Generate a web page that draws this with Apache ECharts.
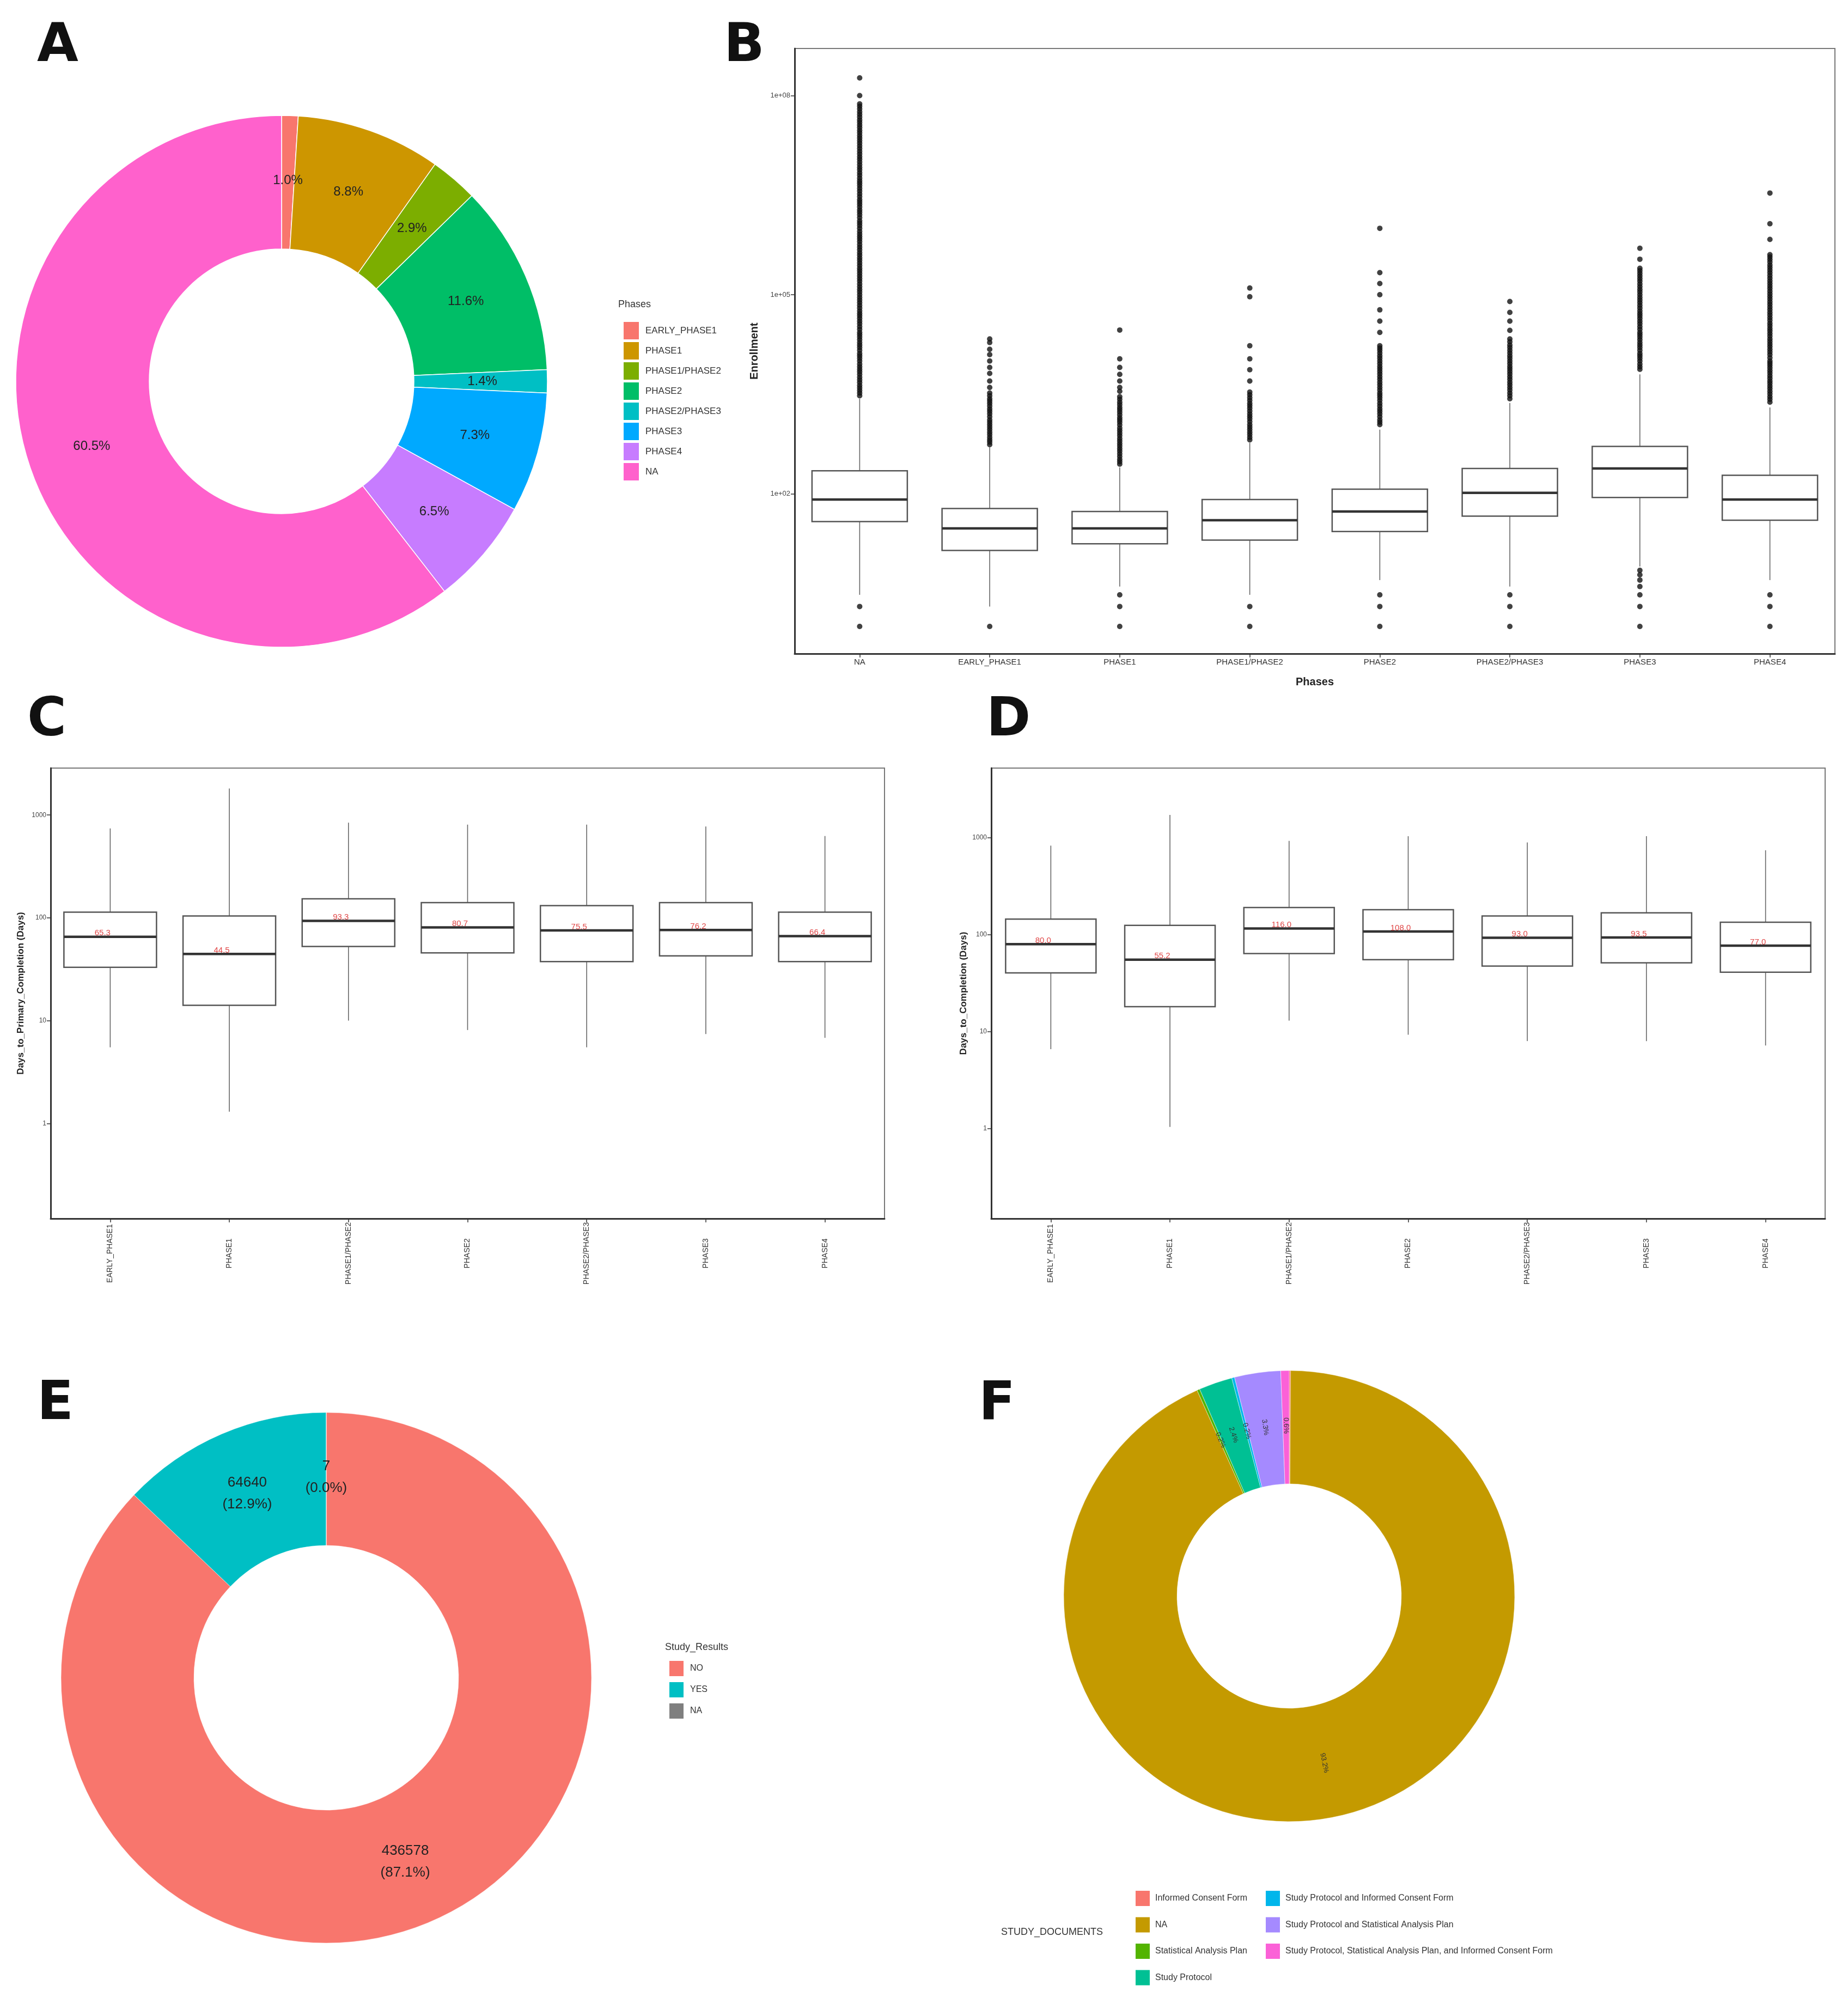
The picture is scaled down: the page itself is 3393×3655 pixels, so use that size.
<!DOCTYPE html>
<html><head><meta charset="utf-8">
<script src="https://cdn.jsdelivr.net/npm/echarts@6/dist/echarts.min.js"></script>
<style>html,body{margin:0;padding:0;background:#fff}#c{width:3393px;height:3655px}</style>
</head><body><div id="c"></div>
<script>
// ---------- Panel A: Phases donut ----------
const phaseNames = ['EARLY_PHASE1','PHASE1','PHASE1/PHASE2','PHASE2','PHASE2/PHASE3','PHASE3','PHASE4','NA'];
const phasePct = [1.0, 8.8, 2.9, 11.6, 1.4, 7.3, 6.5, 60.5];
const phaseColors = ['#F8766D','#CD9600','#7CAE00','#00BE67','#00BFC4','#00A9FF','#C77CFF','#FF61CC'];

// ---------- Panel B: Enrollment by phase (log scale) ----------
const enrollCats = ['NA','EARLY_PHASE1','PHASE1','PHASE1/PHASE2','PHASE2','PHASE2/PHASE3','PHASE3','PHASE4'];
const enrollLowWhisker  = [3, 2, 4, 3, 5, 4, 8, 5];
const enrollQ1          = [38, 14, 17.6, 20, 27, 46, 88, 40];
const enrollMedian      = [82, 30, 30, 40, 54, 103, 240, 82];
const enrollQ3          = [222, 60, 54, 82, 117, 240, 517, 190];
const enrollHighWhisker = [2700, 500, 250, 585, 926, 2330, 6300, 2000];
const enrollOutHigh = [
  [3000,3300,3600,3950,4300,4750,5200,5700,6300,6900,7500,8200,9000,10000,11000,12000,13000,14500,16000,17500,19000,21000,23000,25000,27000,30000,33000,36500,40000,44000,48000,52000,57000,63000,69000,76000,83000,91000,100000,110000,120000,132000,145000,160000,175000,192000,210000,230000,250000,275000,300000,330000,360000,395000,430000,475000,520000,570000,630000,690000,750000,820000,900000,1000000,1100000,1200000,1300000,1450000,1600000,1750000,1900000,2100000,2300000,2500000,2700000,3000000,3300000,3650000,4000000,4400000,4800000,5200000,5700000,6300000,6900000,7600000,8300000,9100000,10000000,11000000,12000000,13200000,14500000,16000000,17500000,19200000,21000000,23000000,25000000,27500000,30000000,33000000,36000000,39500000,43000000,47500000,52000000,57000000,63000000,69000000,75000000,100000000,185000000],
  [550,600,650,710,780,850,930,1010,1100,1200,1300,1450,1600,1750,1900,2100,2300,2500,2700,3000,3300,4000,5000,6500,8000,10000,12500,15000,19000,21500],
  [280,305,330,365,400,440,480,525,570,625,680,750,820,900,980,1090,1200,1300,1400,1550,1700,1850,2000,2200,2400,2650,2900,3500,4000,5000,6300,8000,10800,29300],
  [650,710,780,850,930,1010,1100,1220,1350,1470,1600,1770,1950,2120,2300,2550,2800,3100,3400,5000,7400,10800,17000,93000,126000],
  [1100,1200,1300,1450,1600,1750,1900,2100,2300,2550,2800,3050,3300,3650,4000,4400,4800,5300,5800,6400,7000,7650,8300,9150,10000,11000,12000,13200,14500,15700,17000,27000,40000,59000,100000,147000,215000,1000000],
  [2700,3000,3300,3650,4000,4400,4800,5300,5800,6400,7000,7650,8300,9150,10000,11000,12000,13200,14500,16000,17500,19500,21500,29000,40000,54000,79000],
  [7500,8200,9000,10000,11000,12000,13000,14500,16000,17500,19000,21000,23000,25000,27000,30000,33000,36500,40000,44000,48000,52000,57000,63000,69000,76000,83000,91000,100000,110000,120000,132000,145000,160000,175000,192000,210000,230000,250000,342000,500000],
  [2400,2650,2900,3200,3500,3850,4200,4600,5000,5500,6000,6600,7200,7900,8600,9300,10000,11200,12500,13700,15000,16500,18000,19700,21500,23700,26000,28500,31000,34000,37000,41000,45000,49500,54000,59500,65000,71500,78000,86000,94000,103000,113000,124000,135000,148000,162000,178000,195000,215000,235000,257000,280000,310000,340000,370000,400000,680000,1170000,3400000]
];
const enrollOutLow = [[2,1],[1],[3,2,1],[2,1],[3,2,1],[3,2,1],[7,6,5,4,3,2,1],[3,2,1]];
const enrollTicks = [1e2, 1e5, 1e8];

// ---------- Panels C & D: durations (log scale, days) ----------
const durCats = ['EARLY_PHASE1','PHASE1','PHASE1/PHASE2','PHASE2','PHASE2/PHASE3','PHASE3','PHASE4'];
const primLow  = [5.5, 1.3, 10, 8.1, 5.5, 7.4, 6.8];
const primQ1   = [33, 14.1, 52.7, 45.6, 37.5, 42.6, 37.5];
const primMed  = [65.3, 44.5, 93.3, 80.7, 75.5, 76.2, 66.4];
const primQ3   = [113.7, 104.4, 153, 140.6, 131.5, 140.6, 113.7];
const primHigh = [741, 1815, 843, 807, 807, 774, 625];
const compLow  = [6.6, 1.04, 13, 9.3, 8, 8, 7.2];
const compQ1   = [40.4, 18.1, 64, 55.2, 47.5, 51.3, 41];
const compMed  = [80, 55.2, 116, 108, 93, 93.5, 77];
const compQ3   = [145, 125, 191, 181, 156, 168, 134.6];
const compHigh = [830, 1720, 929, 1038, 895, 1038, 743];
const durTicks = [1, 10, 100, 1000];

// ---------- Panel E: Study results ----------
const resultNames = ['NO','YES','NA'];
const resultCounts = [436578, 64640, 7];
const resultColors = ['#F8766D','#00BFC4','#7F7F7F'];

// ---------- Panel F: Study documents ----------
const docNames = ['Informed Consent Form','NA','Statistical Analysis Plan','Study Protocol',
  'Study Protocol and Informed Consent Form','Study Protocol and Statistical Analysis Plan',
  'Study Protocol, Statistical Analysis Plan, and Informed Consent Form'];
const docPct = [0.1, 93.2, 0.2, 2.4, 0.2, 3.3, 0.6];
const docColors = ['#F8766D','#C49A00','#53B400','#00C094','#00B6EB','#A58AFF','#FB61D7'];

// ================= build =================
const FONT = 'Liberation Sans';
const lg = Math.log10;
const chart = echarts.init(document.getElementById('c'));

function boxRenderer(boxW, labels) {
  return function (params, api) {
    const i = api.value(0);
    const lw = api.coord([i, api.value(1)]);
    const q1 = api.coord([i, api.value(2)]);
    const md = api.coord([i, api.value(3)]);
    const q3 = api.coord([i, api.value(4)]);
    const uw = api.coord([i, api.value(5)]);
    const x = md[0], h = boxW / 2;
    const kids = [
      {type:'line', shape:{x1:x,y1:lw[1],x2:x,y2:q1[1]}, style:{stroke:'#666', lineWidth:1.6}},
      {type:'line', shape:{x1:x,y1:q3[1],x2:x,y2:uw[1]}, style:{stroke:'#666', lineWidth:1.6}},
      {type:'rect', shape:{x:x-h, y:q3[1], width:boxW, height:q1[1]-q3[1]}, style:{fill:'#fff', stroke:'#555', lineWidth:2.5}},
      {type:'line', shape:{x1:x-h,y1:md[1],x2:x+h,y2:md[1]}, style:{stroke:'#333', lineWidth:4.5}}
    ];
    if (labels) {
      kids.push({type:'text', x:x-14, y:md[1]+1, style:{text:labels[params.dataIndex], fill:'#e04848',
        fontSize:15, fontFamily:FONT, align:'center', verticalAlign:'bottom'}});
    }
    return {type:'group', children:kids};
  };
}

function boxData(lo, q1, md, q3, hi) {
  return lo.map((_, i) => [i, lg(lo[i]), lg(q1[i]), lg(md[i]), lg(q3[i]), lg(hi[i])]);
}

const outlierPts = [];
enrollCats.forEach((_, i) => {
  enrollOutHigh[i].forEach(v => outlierPts.push([i, lg(v)]));
  enrollOutLow[i].forEach(v => outlierPts.push([i, lg(v)]));
});

function sciLabel(v) {
  const e = Math.round(v);
  return '1e+' + String(e).padStart(2, '0');
}

const axisLineStyle = {show:true, onZero:false, lineStyle:{color:'#333', width:3}};
const tickStyle = {show:true, length:7, lineStyle:{color:'#333', width:1.5}};

function durYAxis(gridIndex, min, max, name, gap) {
  return {
    type:'value', gridIndex, min, max,
    name, nameLocation:'middle', nameGap:gap, nameRotate:90,
    nameTextStyle:{fontSize:17, fontWeight:'bold', color:'#222', fontFamily:FONT},
    axisLine:axisLineStyle, splitLine:{show:false},
    axisTick:Object.assign({customValues: durTicks.map(lg)}, tickStyle),
    axisLabel:{customValues: durTicks.map(lg), formatter: v => String(Math.round(Math.pow(10, v))),
      fontSize:12, color:'#444', margin:8, fontFamily:FONT}
  };
}
function durXAxis(gridIndex) {
  return {
    type:'category', gridIndex, data:durCats, boundaryGap:true,
    axisLine:axisLineStyle, axisTick:Object.assign({alignWithLabel:true}, tickStyle),
    axisLabel:{rotate:90, interval:0, fontSize:14, color:'#333', align:'center', verticalAlign:'middle', margin:64, fontFamily:FONT},
    splitLine:{show:false}
  };
}

const resultTotal = resultCounts.reduce((a, b) => a + b, 0);

const letter = (t, left, top) => ({text:t, left, top, padding:0,
  textStyle:{fontSize:98, fontWeight:900, color:'#111', fontFamily:'DejaVu Sans'}});
const legTitle = (t, left, top) => ({text:t, left, top, padding:0,
  textStyle:{fontSize:18, fontWeight:'normal', color:'#333', fontFamily:FONT}});

const option = {
  animation:false,
  backgroundColor:'#fff',
  textStyle:{fontFamily:FONT},
  title:[
    letter('A', 68, 38), letter('B', 1329, 38), letter('C', 50, 1276), letter('D', 1811, 1276),
    letter('E', 68, 2531), letter('F', 1797, 2531),
    legTitle('Phases', 1135, 550),
    legTitle('Study_Results', 1221, 3015),
    legTitle('STUDY_DOCUMENTS', 1838, 3538)
  ],
  legend:[
    {orient:'vertical', left:1138, top:584, itemWidth:30, itemHeight:34, itemGap:1, icon:'rect',
      selectedMode:false, data:phaseNames.map(n => 'A|' + n), formatter:n => n.split('|')[1],
      textStyle:{fontSize:17, color:'#333', padding:[0,0,0,6]}},
    {orient:'vertical', left:1222, top:3042, itemWidth:28, itemHeight:30, itemGap:7, icon:'rect',
      selectedMode:false, data:resultNames.map(n => 'E|' + n), formatter:n => n.split('|')[1],
      textStyle:{fontSize:16, color:'#333', padding:[0,0,0,6]}},
    {orient:'vertical', left:2078, top:3464, itemWidth:28, itemHeight:30, itemGap:16.5, icon:'rect',
      selectedMode:false, data:docNames.slice(0, 4).map(n => 'F|' + n), formatter:n => n.split('|')[1],
      textStyle:{fontSize:16, color:'#333', padding:[0,0,0,4]}},
    {orient:'vertical', left:2317, top:3464, itemWidth:28, itemHeight:30, itemGap:16.5, icon:'rect',
      selectedMode:false, data:docNames.slice(4).map(n => 'F|' + n), formatter:n => n.split('|')[1],
      textStyle:{fontSize:16, color:'#333', padding:[0,0,0,4]}}
  ],
  grid:[
    {left:1459, top:89, width:1910, height:1111, show:true, borderColor:'#777', borderWidth:2, containLabel:false},
    {left:93, top:1410, width:1531, height:827, show:true, borderColor:'#777', borderWidth:2},
    {left:1820, top:1410, width:1531, height:827, show:true, borderColor:'#777', borderWidth:2}
  ],
  xAxis:[
    {type:'category', gridIndex:0, data:enrollCats, boundaryGap:true,
      name:'Phases', nameLocation:'middle', nameGap:42,
      nameTextStyle:{fontSize:20, fontWeight:'bold', color:'#222'},
      axisLine:axisLineStyle, axisTick:Object.assign({alignWithLabel:true}, tickStyle),
      axisLabel:{interval:0, fontSize:15, color:'#333', margin:8}, splitLine:{show:false}},
    durXAxis(1), durXAxis(2)
  ],
  yAxis:[
    {type:'value', gridIndex:0, min:-0.41, max:8.71,
      name:'Enrollment', nameLocation:'middle', nameGap:64, nameRotate:90,
      nameTextStyle:{fontSize:20, fontWeight:'bold', color:'#222'},
      axisLine:axisLineStyle, splitLine:{show:false},
      axisTick:Object.assign({customValues: enrollTicks.map(lg)}, tickStyle),
      axisLabel:{customValues: enrollTicks.map(lg), formatter: sciLabel, fontSize:13, color:'#444', margin:8}},
    durYAxis(1, -0.926, 3.457, 'Days_to_Primary_Completion (Days)', 46),
    durYAxis(2, -0.928, 3.719, 'Days_to_Completion (Days)', 42)
  ],
  series:[
    {type:'pie', center:[517, 700], radius:[243, 488], startAngle:90, clockwise:true,
      avoidLabelOverlap:false, silent:true,
      itemStyle:{borderColor:'#fff', borderWidth:1.5},
      label:{show:true, position:'inside', fontSize:24, color:'#222', formatter:p => phasePct[p.dataIndex].toFixed(1) + '%'},
      labelLine:{show:false},
      data:phaseNames.map((n, i) => ({name:'A|' + n, value:phasePct[i], itemStyle:{color:phaseColors[i]}}))},
    {type:'custom', xAxisIndex:0, yAxisIndex:0, renderItem:boxRenderer(175, null),
      encode:{x:0, y:[1,2,3,4,5]}, data:boxData(enrollLowWhisker, enrollQ1, enrollMedian, enrollQ3, enrollHighWhisker), z:2},
    {type:'scatter', xAxisIndex:0, yAxisIndex:0, symbol:'circle', symbolSize:10,
      itemStyle:{color:'#111'}, data:outlierPts, z:3, silent:true},
    {type:'custom', xAxisIndex:1, yAxisIndex:1, renderItem:boxRenderer(170, primMed.map(v => v.toFixed(1))),
      encode:{x:0, y:[1,2,3,4,5]}, data:boxData(primLow, primQ1, primMed, primQ3, primHigh)},
    {type:'custom', xAxisIndex:2, yAxisIndex:2, renderItem:boxRenderer(166, compMed.map(v => v.toFixed(1))),
      encode:{x:0, y:[1,2,3,4,5]}, data:boxData(compLow, compQ1, compMed, compQ3, compHigh)},
    {type:'pie', center:[599, 3080], radius:[243, 487], startAngle:90, clockwise:true,
      avoidLabelOverlap:false, silent:true, minShowLabelAngle:0,
      itemStyle:{borderColor:'#fff', borderWidth:0.5},
      label:{show:true, position:'inside', fontSize:26, lineHeight:40, color:'#222',
        formatter:p => resultCounts[p.dataIndex] + '\n(' + (resultCounts[p.dataIndex] / resultTotal * 100).toFixed(1) + '%)'},
      labelLine:{show:false},
      data:resultNames.map((n, i) => ({name:'E|' + n, value:resultCounts[i], itemStyle:{color:resultColors[i]}}))},
    {type:'pie', center:[2367, 2930], radius:[206, 414], startAngle:90, clockwise:true,
      avoidLabelOverlap:false, silent:true, minShowLabelAngle:0,
      itemStyle:{borderColor:'#fff', borderWidth:0.5},
      label:{show:true, position:'inside', rotate:'radial', fontSize:13, color:'#333',
        formatter:p => docPct[p.dataIndex].toFixed(1) + '%'},
      labelLine:{show:false},
      data:docNames.map((n, i) => ({name:'F|' + n, value:docPct[i], itemStyle:{color:docColors[i]}}))}
  ]
};
chart.setOption(option);
</script>
</body></html>
